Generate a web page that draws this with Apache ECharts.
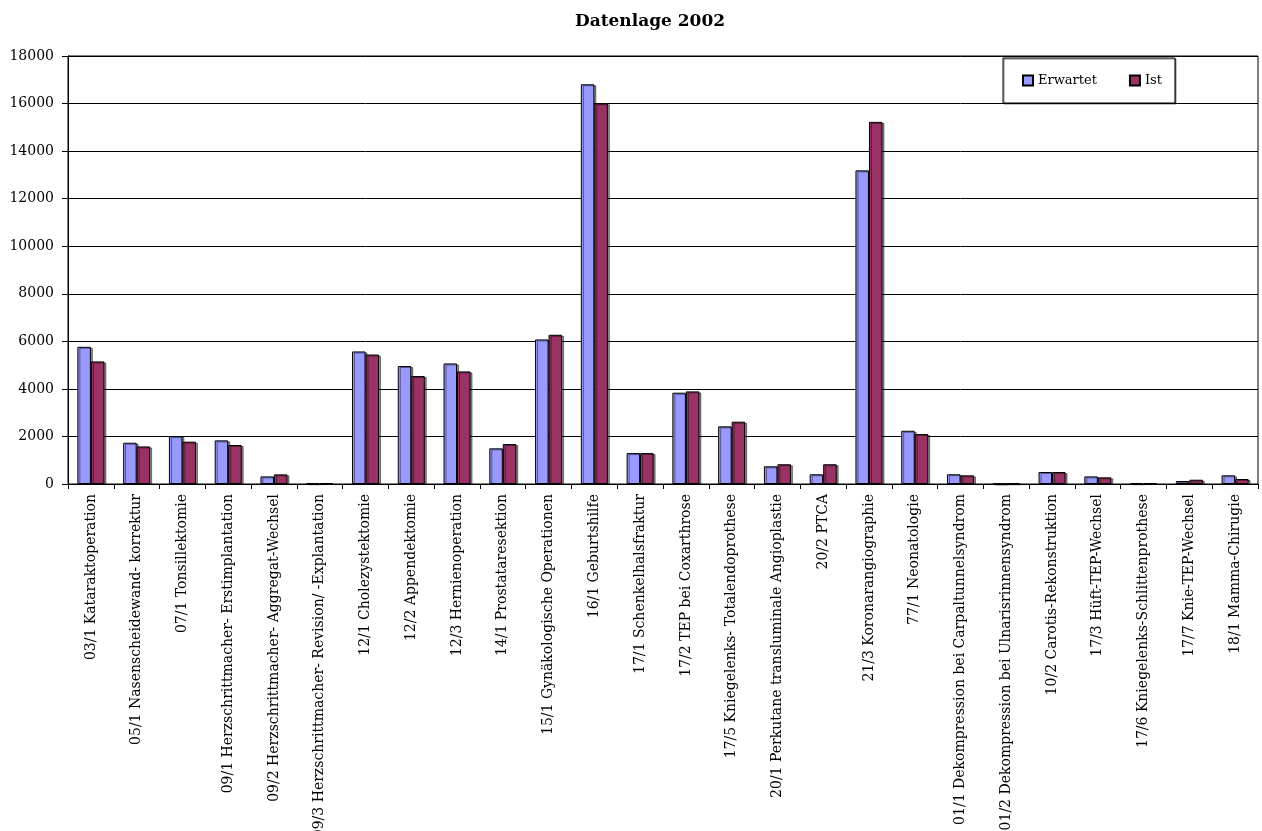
<!DOCTYPE html>
<html>
<head>
<meta charset="utf-8">
<script src="https://cdn.jsdelivr.net/npm/echarts@6/dist/echarts.min.js"></script>
<style>html,body{margin:0;padding:0;background:#fff}#c{width:1262px;height:831px}</style>
</head>
<body>
<div id="c"></div>
<script>
const categories = [
  "03/1 Kataraktoperation",
  "05/1 Nasenscheidewand- korrektur",
  "07/1 Tonsillektomie",
  "09/1 Herzschrittmacher- Erstimplantation",
  "09/2 Herzschrittmacher- Aggregat-Wechsel",
  "09/3 Herzschrittmacher- Revision/ -Explantation",
  "12/1 Cholezystektomie",
  "12/2 Appendektomie",
  "12/3 Hernienoperation",
  "14/1 Prostataresektion",
  "15/1 Gynäkologische Operationen",
  "16/1 Geburtshilfe",
  "17/1 Schenkelhalsfraktur",
  "17/2 TEP bei Coxarthrose",
  "17/5 Kniegelenks- Totalendoprothese",
  "20/1 Perkutane transluminale Angioplastie",
  "20/2 PTCA",
  "21/3 Koronarangiographie",
  "77/1 Neonatologie",
  "01/1 Dekompression bei Carpaltunnelsyndrom",
  "01/2 Dekompression bei Ulnarisrinnensyndrom",
  "10/2 Carotis-Rekonstruktion",
  "17/3 Hüft-TEP-Wechsel",
  "17/6 Kniegelenks-Schlittenprothese",
  "17/7 Knie-TEP-Wechsel",
  "18/1 Mamma-Chirugie"
];
const erwartet = [5770, 1735, 2015, 1835, 320, 30, 5575, 4960, 5070, 1500, 6080, 16810, 1300, 3840, 2425, 745, 410, 13190, 2240, 410, 15, 505, 320, 30, 125, 365];
const ist      = [5155, 1580, 1780, 1640, 405, 40, 5445, 4540, 4735, 1680, 6275, 16010, 1300, 3895, 2620, 830, 830, 15230, 2100, 365, 30, 505, 280, 40, 180, 210];
const seriesNames = ["Erwartet", "Ist"];
const titleText = "Datenlage 2002";

const serif = "'DejaVu Serif', 'Liberation Serif', serif";
const chart = echarts.init(document.getElementById('c'), null, {renderer: 'canvas'});
const barStyle = (color) => ({
  color: color,
  borderColor: '#000',
  borderWidth: 1,
  shadowColor: 'rgba(0,0,0,0.45)',
  shadowOffsetX: 2,
  shadowOffsetY: 1,
  shadowBlur: 0
});
chart.setOption({
  animation: false,
  backgroundColor: '#fff',
  title: {
    text: titleText,
    left: 645, textAlign: 'center', top: 8,
    textStyle: {fontFamily: serif, fontWeight: 'bold', fontSize: 17, color: '#000'}
  },
  legend: {
    data: seriesNames,
    left: 1003, top: 58,
    padding: [16, 13, 16, 19],
    backgroundColor: '#fff',
    borderColor: '#000',
    borderWidth: 1,
    icon: 'rect',
    itemWidth: 10, itemHeight: 10,
    itemGap: 32,
    textStyle: {fontFamily: serif, fontSize: 13, color: '#000'},
    shadowColor: 'rgba(0,0,0,0.5)', shadowOffsetX: 1, shadowOffsetY: 1
  },
  grid: {
    left: 68, right: 4, top: 56, bottom: 347,
    containLabel: false,
    outerBoundsMode: 'none',
    show: true, borderColor: '#000', borderWidth: 1, backgroundColor: 'transparent'
  },
  xAxis: {
    type: 'category',
    data: categories,
    axisLine: {lineStyle: {color: '#000', width: 1}},
    axisTick: {show: true, length: 5, lineStyle: {color: '#000'}, alignWithLabel: false},
    axisLabel: {rotate: 90, interval: 0, margin: 10, fontFamily: serif, fontSize: 14, color: '#000'}
  },
  yAxis: {
    type: 'value',
    min: 0, max: 18000, interval: 2000,
    axisLine: {show: true, lineStyle: {color: '#000', width: 1}},
    axisTick: {show: true, length: 6, lineStyle: {color: '#000'}},
    splitLine: {show: true, lineStyle: {color: '#000', width: 1}},
    axisLabel: {margin: 14, fontFamily: serif, fontSize: 14, color: '#000', formatter: (v) => String(v)}
  },
  series: [
    {name: seriesNames[0], type: 'bar', data: erwartet, barGap: '0%', barCategoryGap: '41%', itemStyle: barStyle('#9999FF')},
    {name: seriesNames[1], type: 'bar', data: ist, barGap: '0%', barCategoryGap: '41%', itemStyle: barStyle('#993366')}
  ]
});
</script>
</body>
</html>
